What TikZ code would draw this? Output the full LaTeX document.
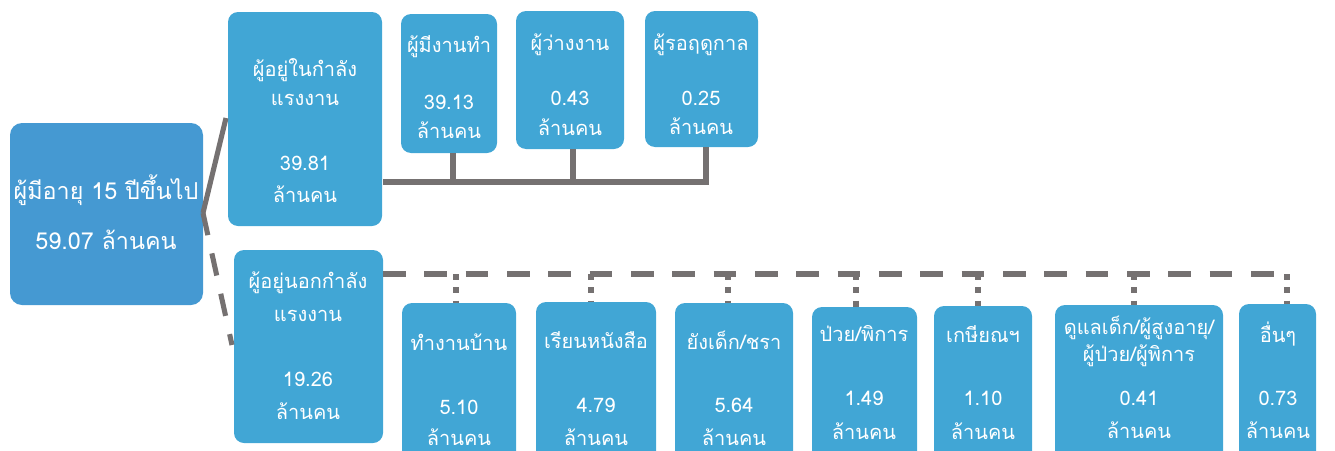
\documentclass[tikz,border=0pt]{standalone}
\usepackage{fontspec}
\newfontfamily\thaifont[Script=Thai]{Loma}
\definecolor{boxblue}{HTML}{41A6D5}
\definecolor{mainblue}{HTML}{4599D2}
\definecolor{lgray}{HTML}{757171}
\tikzset{
  box/.style={fill=boxblue, draw=none, rounded corners=7.5pt},
  mainbox/.style={fill=mainblue, draw=none, rounded corners=9pt},
  txt/.style={text=white, font=\thaifont\fontsize{15}{18}\selectfont, inner sep=0pt, anchor=center},
  bigtxt/.style={text=white, font=\thaifont\fontsize{17.5}{21}\selectfont, inner sep=0pt, anchor=center},
  solidline/.style={draw=lgray, line width=3.8pt},
  dashline/.style={draw=lgray, line width=3.8pt, dash pattern=on 17pt off 14pt},
  dotline/.style={draw=lgray, line width=3.8pt, dash pattern=on 4.5pt off 5.5pt}
}
\begin{document}
\begin{tikzpicture}[x=0.75pt,y=-0.75pt]
\useasboundingbox (0,0) rectangle (1335,450);
\clip (0,0) rectangle (1335,450);
% boxes
\path[mainbox] (10,123) rectangle (203,305);
\path[box] (228,12) rectangle (382,226);
\path[box] (234,250) rectangle (383,443);
\path[box] (401,14) rectangle (497,153);
\path[box] (516,11) rectangle (624,149);
\path[box] (645,11) rectangle (758,147);
\path[box] (402,303) rectangle (516,470);
\path[box] (536,302) rectangle (656,470);
\path[box] (675,303) rectangle (793,470);
\path[box] (812,307) rectangle (917,470);
\path[box] (934,306) rectangle (1032,470);
\path[box] (1055,305) rectangle (1223,470);
\path[box] (1239,304) rectangle (1316,470);
% anchor coordinates
\coordinate (m) at (203,213);
\coordinate (inl) at (226,118);
\coordinate (outl) at (232,345);
\coordinate (hs) at (383,182);
\coordinate (he) at (706,182);
\coordinate (t1b) at (453,153);
\coordinate (t2b) at (573,149);
\coordinate (t3b) at (706,147);
\coordinate (ds) at (383,274);
\coordinate (de) at (1289,274);
% connectors
\draw[solidline] (m) -- (inl);
\draw[dashline] (m) -- (outl);
\draw[solidline] (hs) -- (he) -- (t3b);
\draw[solidline] (t1b) -- (t1b|-hs);
\draw[solidline] (t2b) -- (t2b|-hs);
\draw[dashline] (ds) -- (de);
\foreach \x/\yb in {456/303,591/302,728/303,856/307,978/306,1134/305,1287/304}{
  \draw[dotline] (\x,274) -- (\x,\yb);
}
% texts
\node[bigtxt] (mt1) at (106,190) {ผู้มีอายุ 15 ปีขึ้นไป};
\node[bigtxt] (mt2) at (106,240) {59.07 ล้านคน};
\node[txt] (a1) at (305,70) {ผู้อยู่ในกำลัง};
\node[txt] (a2) at (305,100) {แรงงาน};
\node[txt] (a3) at (305,163) {39.81};
\node[txt] (a4) at (305,194) {ล้านคน};
\node[txt] (b1) at (308,283) {ผู้อยู่นอกกำลัง};
\node[txt] (b2) at (308,316) {แรงงาน};
\node[txt] (b3) at (308,379) {19.26};
\node[txt] (b4) at (308,411) {ล้านคน};
\node[txt] (c1) at (449,47) {ผู้มีงานทำ};
\node[txt] (c2) at (449,102) {39.13};
\node[txt] (c3) at (449,130) {ล้านคน};
\node[txt] (d1) at (570,45) {ผู้ว่างงาน};
\node[txt] (d2) at (570,98) {0.43};
\node[txt] (d3) at (570,127) {ล้านคน};
\node[txt] (e1) at (701,45) {ผู้รอฤดูกาล};
\node[txt] (e2) at (701,98) {0.25};
\node[txt] (e3) at (701,126) {ล้านคน};
\node[txt] (f1) at (459,342) {ทำงานบ้าน};
\node[txt] (f2) at (459,407) {5.10};
\node[txt] (f3) at (459,437) {ล้านคน};
\node[txt] (g1) at (596,340) {เรียนหนังสือ};
\node[txt] (g2) at (596,405) {4.79};
\node[txt] (g3) at (596,437) {ล้านคน};
\node[txt] (h1) at (734,340) {ยังเด็ก/ชรา};
\node[txt] (h2) at (734,405) {5.64};
\node[txt] (h3) at (734,437) {ล้านคน};
\node[txt] (i1) at (864,334) {ป่วย/พิการ};
\node[txt] (i2) at (864,398) {1.49};
\node[txt] (i3) at (864,431) {ล้านคน};
\node[txt] (j1) at (983,334) {เกษียณฯ};
\node[txt] (j2) at (983,398) {1.10};
\node[txt] (j3) at (983,431) {ล้านคน};
\node[txt] (k1) at (1139,328) {ดูแลเด็ก/ผู้สูงอายุ/};
\node[txt] (k2) at (1139,356) {ผู้ป่วย/ผู้พิการ};
\node[txt] (k3) at (1139,398) {0.41};
\node[txt] (k4) at (1139,430) {ล้านคน};
\node[txt] (l1) at (1278,334) {อื่นๆ};
\node[txt] (l2) at (1278,398) {0.73};
\node[txt] (l3) at (1278,430) {ล้านคน};
\end{tikzpicture}
\end{document}
